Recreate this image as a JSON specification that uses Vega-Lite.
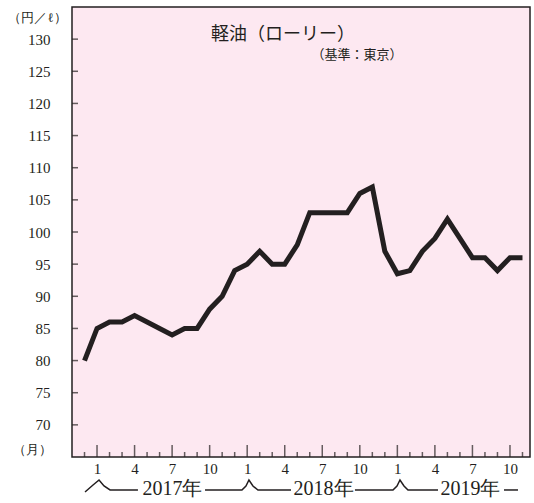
{
  "$schema": "https://vega.github.io/schema/vega-lite/v6.json",
  "width": 458,
  "height": 450,
  "autosize": {"type": "none"},
  "padding": {"left": 72, "top": 7, "right": 4, "bottom": 46},
  "background": "white",
  "config": {
    "view": {"fill": "#fde8f1", "stroke": "#231f20", "strokeWidth": 1.5},
    "font": "Liberation Serif",
    "axis": {"labelOverlap": false, "labelFont": "Liberation Serif", "labelColor": "#231f20", "grid": false, "domain": false, "ticks": false, "labelFontSize": 15}
  },
  "datasets": {
    "prices": [
      {"m": 0, "month": 12, "price": 80},
      {"m": 1, "month": 1, "price": 85},
      {"m": 2, "month": 2, "price": 86},
      {"m": 3, "month": 3, "price": 86},
      {"m": 4, "month": 4, "price": 87},
      {"m": 5, "month": 5, "price": 86},
      {"m": 6, "month": 6, "price": 85},
      {"m": 7, "month": 7, "price": 84},
      {"m": 8, "month": 8, "price": 85},
      {"m": 9, "month": 9, "price": 85},
      {"m": 10, "month": 10, "price": 88},
      {"m": 11, "month": 11, "price": 90},
      {"m": 12, "month": 12, "price": 94},
      {"m": 13, "month": 1, "price": 95},
      {"m": 14, "month": 2, "price": 97},
      {"m": 15, "month": 3, "price": 95},
      {"m": 16, "month": 4, "price": 95},
      {"m": 17, "month": 5, "price": 98},
      {"m": 18, "month": 6, "price": 103},
      {"m": 19, "month": 7, "price": 103},
      {"m": 20, "month": 8, "price": 103},
      {"m": 21, "month": 9, "price": 103},
      {"m": 22, "month": 10, "price": 106},
      {"m": 23, "month": 11, "price": 107},
      {"m": 24, "month": 12, "price": 97},
      {"m": 25, "month": 1, "price": 93.5},
      {"m": 26, "month": 2, "price": 94},
      {"m": 27, "month": 3, "price": 97},
      {"m": 28, "month": 4, "price": 99},
      {"m": 29, "month": 5, "price": 102},
      {"m": 30, "month": 6, "price": 99},
      {"m": 31, "month": 7, "price": 96},
      {"m": 32, "month": 8, "price": 96},
      {"m": 33, "month": 9, "price": 94},
      {"m": 34, "month": 10, "price": 96},
      {"m": 35, "month": 11, "price": 96}
    ],
    "yticks": [
      {"price": 70}, {"price": 75}, {"price": 80}, {"price": 85}, {"price": 90},
      {"price": 95}, {"price": 100}, {"price": 105}, {"price": 110}, {"price": 115},
      {"price": 120}, {"price": 125}, {"price": 130}
    ],
    "bracket": [
      {"seg": 1, "m": 0.04, "v": 59.56},
      {"seg": 1, "m": 0.68, "v": 60.64},
      {"seg": 1, "m": 1.16, "v": 61.42},
      {"seg": 1, "m": 1.56, "v": 60.49},
      {"seg": 1, "m": 2.04, "v": 59.87},
      {"seg": 1, "m": 4.27, "v": 59.87},
      {"seg": 2, "m": 9.63, "v": 59.87},
      {"seg": 2, "m": 12.58, "v": 59.87},
      {"seg": 2, "m": 12.9, "v": 60.49},
      {"seg": 2, "m": 13.14, "v": 61.42},
      {"seg": 2, "m": 13.46, "v": 60.49},
      {"seg": 2, "m": 13.86, "v": 59.87},
      {"seg": 2, "m": 16.5, "v": 59.87},
      {"seg": 3, "m": 21.61, "v": 59.87},
      {"seg": 3, "m": 24.65, "v": 59.87},
      {"seg": 3, "m": 24.97, "v": 60.49},
      {"seg": 3, "m": 25.21, "v": 61.42},
      {"seg": 3, "m": 25.53, "v": 60.49},
      {"seg": 3, "m": 25.85, "v": 59.87},
      {"seg": 3, "m": 28.25, "v": 59.87},
      {"seg": 4, "m": 33.52, "v": 59.87},
      {"seg": 4, "m": 34.64, "v": 59.87}
    ],
    "years": [
      {"label": "2017年", "m": 7.03},
      {"label": "2018年", "m": 19.1},
      {"label": "2019年", "m": 30.84}
    ]
  },
  "layer": [
    {
      "data": {"name": "prices"},
      "mark": {"type": "line", "color": "#231f20", "strokeWidth": 5, "strokeJoin": "miter", "strokeCap": "butt"},
      "encoding": {
        "x": {
          "field": "m", "type": "quantitative",
          "scale": {"domain": [-1, 35.6], "nice": false, "zero": false},
          "axis": {
            "title": null,
            "values": [1, 4, 7, 10, 13, 16, 19, 22, 25, 28, 31, 34],
            "tickCount": 40,
            "labelExpr": "((datum.value + 11) % 12) + 1",
            "labelOverlap": false, "labelPadding": 4
          }
        },
        "y": {
          "field": "price", "type": "quantitative",
          "scale": {"domain": [65, 135], "nice": false, "zero": false},
          "axis": {
            "values": [70, 75, 80, 85, 90, 95, 100, 105, 110, 115, 120, 125, 130],
            "tickCount": 40,
            "labelOverlap": false,
            "labelPadding": 22,
            "title": "（円／ℓ）", "titleAngle": 0, "titleX": -35, "titleY": 10,
            "titleFont": "Liberation Serif",
            "titleAlign": "center", "titleBaseline": "middle",
            "titleFontSize": 13, "titleFontWeight": "normal", "titleColor": "#231f20"
          }
        }
      }
    },
    {
      "data": {"name": "prices"},
      "mark": {"type": "tick", "orient": "vertical", "clip": true, "thickness": 1.5, "color": "#231f20"},
      "encoding": {
        "x": {"field": "m", "type": "quantitative"},
        "y": {"datum": 65},
        "size": {"condition": {"test": "datum.month % 3 == 1", "value": 24}, "value": 10}
      }
    },
    {
      "data": {"name": "yticks"},
      "mark": {"type": "tick", "orient": "horizontal", "clip": true, "thickness": 1.5, "color": "#231f20", "size": 12},
      "encoding": {
        "x": {"datum": -1},
        "y": {"field": "price", "type": "quantitative"}
      }
    },
    {
      "data": {"name": "bracket"},
      "mark": {"type": "line", "color": "#231f20", "strokeWidth": 1.5, "clip": false},
      "encoding": {
        "x": {"field": "m", "type": "quantitative"},
        "y": {"field": "v", "type": "quantitative"},
        "detail": {"field": "seg"}
      }
    },
    {
      "data": {"name": "years"},
      "mark": {"type": "text", "fontSize": 20, "color": "#231f20", "clip": false, "baseline": "middle", "align": "center"},
      "encoding": {
        "x": {"field": "m", "type": "quantitative"},
        "y": {"datum": 60.1},
        "text": {"field": "label"}
      }
    },
    {
      "data": {"values": [{}]},
      "mark": {"type": "text", "fontSize": 13, "color": "#231f20", "baseline": "bottom", "align": "right", "dx": -20, "clip": false},
      "encoding": {
        "x": {"datum": -1},
        "y": {"datum": 65},
        "text": {"value": "（月）"}
      }
    },
    {
      "data": {"values": [{}]},
      "mark": {"type": "text", "fontSize": 18, "font": "Noto Sans CJK JP", "color": "#231f20", "baseline": "middle", "align": "center"},
      "encoding": {
        "x": {"datum": 15.86},
        "y": {"datum": 130.6},
        "text": {"value": "軽油（ローリー）"}
      }
    },
    {
      "data": {"values": [{}]},
      "mark": {"type": "text", "fontSize": 13, "font": "Noto Sans CJK JP", "color": "#231f20", "baseline": "middle", "align": "center"},
      "encoding": {
        "x": {"datum": 21.78},
        "y": {"datum": 127.5},
        "text": {"value": "（基準：東京）"}
      }
    }
  ]
}
